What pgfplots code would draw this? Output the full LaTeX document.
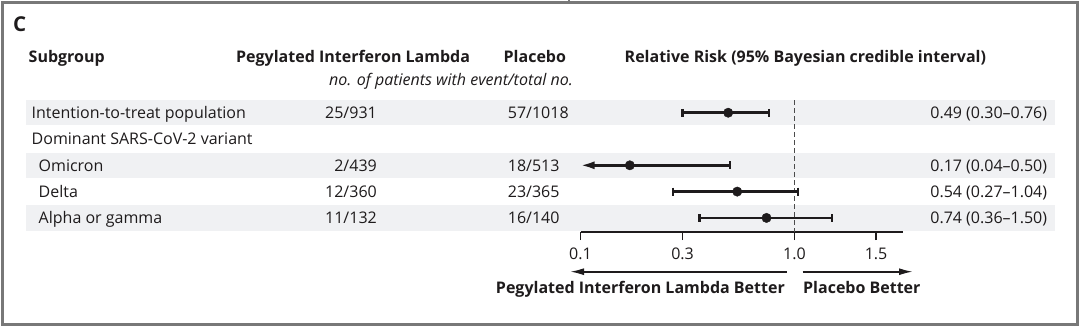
\documentclass[border=0pt]{standalone}
\usepackage{pgfplots}
\pgfplotsset{compat=1.18}
\usetikzlibrary{arrows.meta}
\usepackage{fontspec}
\setmainfont{Open Sans}
\definecolor{txt}{RGB}{30,27,28}
\definecolor{band}{RGB}{240,241,243}
\definecolor{framec}{RGB}{120,120,120}
\definecolor{dashc}{RGB}{75,75,75}
\newcommand{\fs}{\fontsize{16bp}{19bp}\selectfont}
\begin{document}
\begin{tikzpicture}
\useasboundingbox (0,0) rectangle (1080bp,327bp);
\begin{scope}[x=1bp,y=1bp]
\fill[white] (0,0) rectangle (1080,327);
% frame
\draw[framec, line width=2.6bp] (2.6,2.6) rectangle (1077.2,324.4);
\draw[framec, line width=2bp] (569,327) -- (569,323);
% bands
\fill[band] (25.5,327-125.4) rectangle (1055,327-99.9);
\fill[band] (25.5,327-178.4) rectangle (1055,327-152.9);
\fill[band] (25.5,327-230.7) rectangle (1055,327-205.2);
% panel letter
\node[anchor=base west, inner sep=0, text=txt, font=\bfseries\fontsize{20.5bp}{24bp}\selectfont] at (13,327-31) {C};
% headers
\begin{scope}[every node/.style={inner sep=0, text=txt, font=\bfseries\fs}]
\node[anchor=base west] at (28.5,327-62.3) {Subgroup};
\node[anchor=base west] at (236,327-62.3) {Pegylated Interferon Lambda};
\node[anchor=base west] at (503.5,327-62.3) {Placebo};
\node[anchor=base west] at (624.5,327-62.3) {Relative Risk (95\% Bayesian credible interval)};
\end{scope}
\node[anchor=base east, inner sep=0, text=txt, font=\itshape\fs] at (573,327-85) {no. of patients with event/total no.};
% rows
\begin{scope}[every node/.style={inner sep=0, text=txt, font=\fs}]
\node[anchor=base west] at (31.5,327-118.2) {Intention-to-treat population};
\node[anchor=base west] at (31.5,327-144.6) {Dominant SARS-CoV-2 variant};
\node[anchor=base west] at (38.5,327-171.2) {Omicron};
\node[anchor=base west] at (38.5,327-197.3) {Delta};
\node[anchor=base west] at (38.5,327-223.6) {Alpha or gamma};
\node[anchor=base east] at (377,327-118.2) {25/931};
\node[anchor=base east] at (377,327-171.2) {2/439};
\node[anchor=base east] at (377,327-197.3) {12/360};
\node[anchor=base east] at (377,327-223.6) {11/132};
\node[anchor=base west] at (507.7,327-118.2) {57/1018};
\node[anchor=base west] at (507.7,327-171.2) {18/513};
\node[anchor=base west] at (507.7,327-197.3) {23/365};
\node[anchor=base west] at (507.7,327-223.6) {16/140};
\node[anchor=base east] at (1047.3,327-118.2) {0.49 (0.30--0.76)};
\node[anchor=base east] at (1047.3,327-171.2) {0.17 (0.04--0.50)};
\node[anchor=base east] at (1047.3,327-197.3) {0.54 (0.27--1.04)};
\node[anchor=base east] at (1047.3,327-223.6) {0.74 (0.36--1.50)};
\end{scope}
% direction arrows
\draw[txt, line width=1.8bp, -{Latex[length=14bp,width=7bp]}] (786.7,327-271.7) -- (570,327-271.7);
\draw[txt, line width=1.8bp, -{Latex[length=14bp,width=7bp]}] (802.7,327-271.7) -- (913,327-271.7);
\node[anchor=base east, inner sep=0, text=txt, font=\bfseries\fs] at (785,327-293.3) {Pegylated Interferon Lambda Better};
\node[anchor=base west, inner sep=0, text=txt, font=\bfseries\fs] at (803,327-293.3) {Placebo Better};
\end{scope}
% forest axis
\begin{axis}[
  at={(580.5bp,95bp)}, anchor=south west,
  scale only axis, width=322.5bp, height=131.9bp,
  xmode=log, xmin=0.1, xmax=3.214,
  ymin=-4.536, ymax=0.48,
  axis x line*=bottom, axis y line=none,
  xtick={0.1,0.3,1,2.404}, xticklabels={0.1,0.3,1.0,1.5},
  xminorticks=false,
  tick align=outside, major tick length=8bp,
  x axis line style={line width=1.6bp, txt, -},
  xtick style={line width=1.6bp, txt},
  xticklabel style={font=\fs, text=txt, yshift=-4.5bp},
  /pgf/number format/assume math mode=true,
  clip=false,
]
\addplot[dashc, line width=1.6bp, dash pattern=on 5bp off 3bp] coordinates {(1,0.48) (1,-4.536)};
\addplot[txt, line width=2.5bp] coordinates {(0.30,0) (0.76,0)};
\addplot[txt, line width=2.5bp, -{Latex[length=14bp,width=8bp]}] coordinates {(0.50,-2) (0.1,-2)};
\addplot[txt, line width=2.5bp] coordinates {(0.27,-3) (1.04,-3)};
\addplot[txt, line width=2.5bp] coordinates {(0.36,-4) (1.50,-4)};
\addplot[txt, only marks, mark=|, mark size=3.9bp, mark options={line width=2.3bp}] coordinates {(0.30,0) (0.76,0) (0.50,-2) (0.27,-3) (1.04,-3) (0.36,-4) (1.50,-4)};
\addplot[txt, only marks, mark=*, mark size=4.7bp] coordinates {(0.49,0) (0.17,-2) (0.54,-3) (0.74,-4)};
\end{axis}
\end{tikzpicture}
\end{document}
